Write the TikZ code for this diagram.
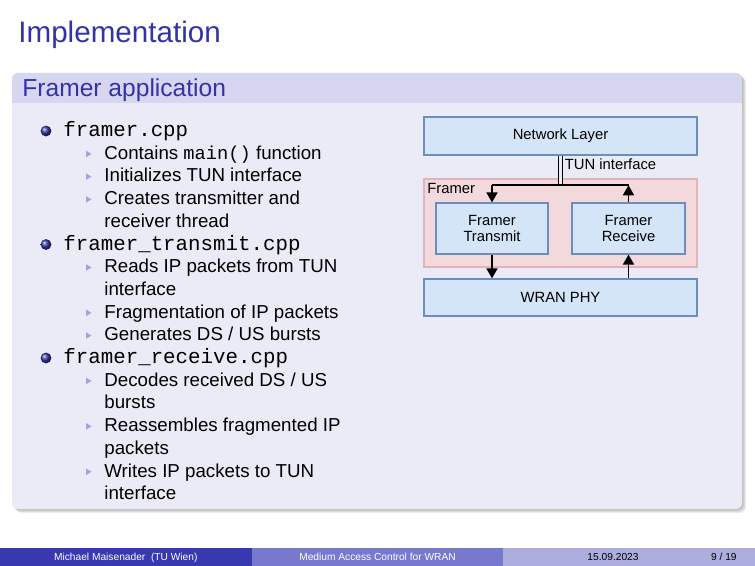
\documentclass[tikz,border=0pt]{standalone}
\usepackage{fontspec}
\setmainfont{Liberation Sans}
\setmonofont{Liberation Mono}
\usetikzlibrary{positioning,arrows.meta}
\definecolor{struct}{rgb}{0.2,0.2,0.66}
\definecolor{titlebg}{rgb}{0.84,0.84,0.94}
\definecolor{bodybg}{rgb}{0.92,0.92,0.97}
\definecolor{boxfill}{HTML}{D5E5F8}
\definecolor{boxline}{HTML}{6C8EBF}
\definecolor{framerfill}{HTML}{F3D8DC}
\definecolor{framerline}{HTML}{E2B4BA}
\definecolor{foot1}{rgb}{0.22,0.22,0.69}
\definecolor{foot2}{rgb}{0.47,0.47,0.81}
\definecolor{foot3}{rgb}{0.68,0.68,0.88}

\begin{document}
\begin{tikzpicture}[x=0.5pt,y=-0.5pt,>={Triangle[width=5.5pt,length=5pt]}]
    \tikzstyle{item}=[anchor=base west,inner sep=0pt,font=\fontsize{10.4}{12}\ttfamily]
    \tikzstyle{sub}=[anchor=base west,inner sep=0pt,font=\fontsize{9.36}{11}\selectfont]
    \tikzstyle{box}=[draw=boxline,fill=boxfill,line width=0.6pt,inner sep=0pt,align=center,font=\fontsize{7.4}{8.3}\selectfont]
    \tikzstyle{lbl}=[anchor=west,inner sep=0pt,font=\fontsize{7.4}{8.3}\selectfont]
    \tikzstyle{foot}=[anchor=base,inner sep=0pt,font=\fontsize{5.1}{6}\selectfont]
    \tikzstyle{wire}=[line width=0.85pt]
    \useasboundingbox (0,0) rectangle (755,566);
    \fill[white] (0,0) rectangle (755,566);

    % frame title
    \node[anchor=base west,inner sep=0pt,text=struct,font=\fontsize{14.8}{17}\selectfont] (ftitle) at (18,42.5) {Implementation};

    % block
    \foreach \s in {1,2,3,4}
        \fill[black,opacity=0.07,rounded corners=3pt] (12+\s,73+\s) rectangle (742+\s,509+\s);
    \fill[titlebg,rounded corners=3pt] (12,73) rectangle (742,509);
    \fill[bodybg,rounded corners=3pt] (12,103) rectangle (742,509);
    \fill[bodybg] (12,103) rectangle (742,112);
    \node[anchor=base west,inner sep=0pt,text=struct,font=\fontsize{12.3}{14}\selectfont] (btitle) at (22,97) {Framer application};

    % items
    \foreach \y/\t [count=\i] in {136.6/framer.cpp, 250.1/framer\_transmit.cpp, 363.6/framer\_receive.cpp} {
        \shade[ball color=struct] (46,\y-5.6) circle (2.7pt);
        \node[item] (f\i) at (63,\y) {\t};
    }
    \foreach \y/\b/\t [count=\i] in {159.3/1/{Contains \texttt{main()} function}, 182/1/Initializes TUN interface,
        204.7/1/Creates transmitter and, 227.4/0/receiver thread, 272.8/1/Reads IP packets from TUN,
        295.5/0/interface, 318.2/1/Fragmentation of IP packets, 340.9/1/{Generates DS / US bursts},
        386.3/1/{Decodes received DS / US}, 409/0/bursts, 431.7/1/Reassembles fragmented IP,
        454.4/0/packets, 477.1/1/Writes IP packets to TUN, 499.8/0/interface} {
        \ifnum\b=1 \fill[struct!45!white] (86,\y-8.6) -- (91.5,\y-5.3) -- (86,\y-2) -- cycle; \fi
        \node[sub] (s\i) at (104,\y) {\t};
    }

    % diagram
    \node[box,minimum width=136.5pt,minimum height=19pt] (net) at (560.5,136) {Network Layer};
    \node[draw=framerline,fill=framerfill,line width=0.6pt,minimum width=136.5pt,minimum height=44pt] (framer) at (560.5,223) {};
    \node[lbl] (framerlbl) at (427,188.3) {Framer};
    \node[lbl] (tun) at (564.5,164.5) {TUN interface};
    \node[box,minimum width=56pt,minimum height=25.5pt] (tx) at (492,228.5) {Framer\\Transmit};
    \node[box,minimum width=56.5pt,minimum height=25.5pt] (rx) at (628.5,228.5) {Framer\\Receive};
    \node[box,minimum width=136.5pt,minimum height=18.5pt] (phy) at (560.5,297.5) {WRAN PHY};

    \coordinate (bus) at (560.5,185.3);
    \draw[double=bodybg,double distance=1.1pt,line width=0.6pt] (net.south) -- (bus);
    \draw[wire] (tx.north |- bus) -- (rx.north |- bus);
    \draw[wire,->] (tx.north |- bus) -- (tx.north);
    \draw[wire,->] (rx.north) -- (rx.north |- bus);
    \draw[wire,->] (tx.south) -- (tx.south |- phy.north);
    \draw[wire,->] (phy.north -| rx.south) -- (rx.south);

    % footline
    \fill[foot1] (0,548) rectangle (251.7,566);
    \fill[foot2] (251.7,548) rectangle (503.3,566);
    \fill[foot3] (503.3,548) rectangle (755,566);
    \node[foot,text=white] (author) at (125.8,560) {Michael Maisenader~~(TU Wien)};
    \node[foot,text=white] (talk) at (377.5,560) {Medium Access Control for WRAN};
    \node[foot] (date) at (613,560) {15.09.2023};
    \node[foot,anchor=base east] (page) at (737,560) {9 / 19};
\end{tikzpicture}
\end{document}
